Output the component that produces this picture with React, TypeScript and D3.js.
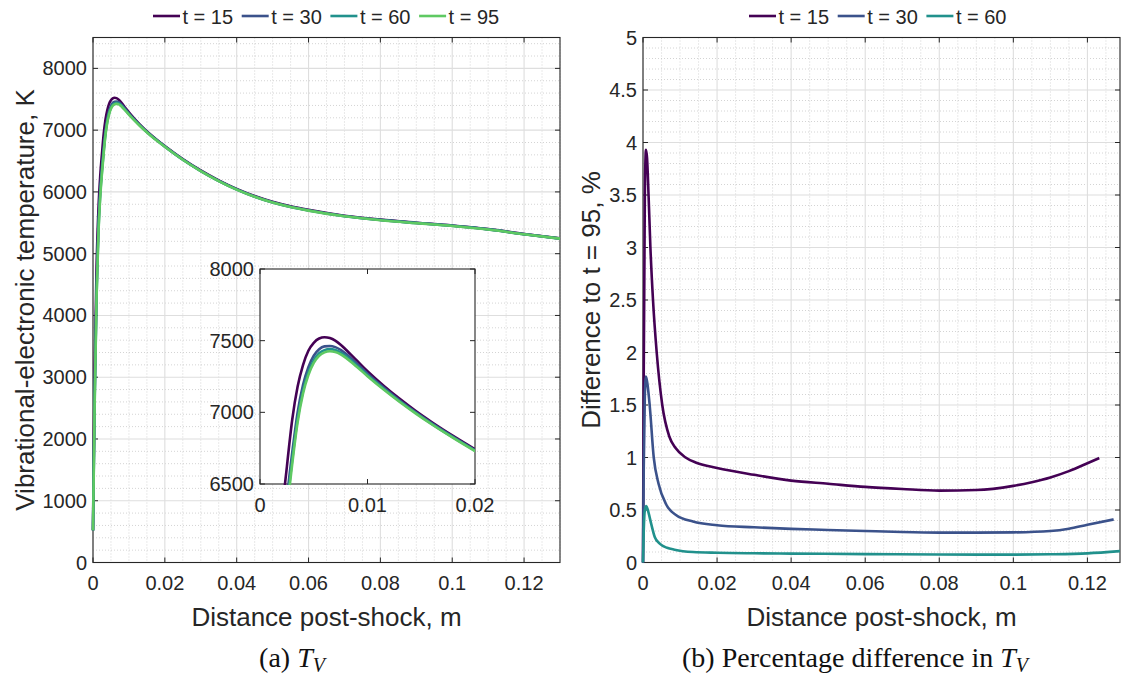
import React from 'react';
import * as d3 from 'd3';

// ---------------- (a) Vibrational-electronic temperature ----------------
const distA = [0, 0.0002, 0.0005, 0.001, 0.0015, 0.002, 0.0025, 0.003, 0.0035, 0.004, 0.0045, 0.005, 0.0055, 0.006, 0.0065, 0.007, 0.0075, 0.008, 0.009, 0.01, 0.0115, 0.013, 0.0145, 0.016, 0.018, 0.02, 0.025, 0.03, 0.035, 0.04, 0.045, 0.05, 0.055, 0.06, 0.07, 0.08, 0.09, 0.1, 0.11, 0.12, 0.13];
const tv15 = [520, 1700, 3200, 4800, 5700, 6250, 6620, 6950, 7180, 7330, 7430, 7485, 7515, 7524, 7518, 7500, 7472, 7437, 7362, 7287, 7186, 7094, 7009, 6931, 6834, 6743, 6532, 6348, 6187, 6049, 5933, 5840, 5767, 5709, 5615, 5551, 5502, 5457, 5398, 5319, 5248];
const tv30 = [520, 1500, 2850, 4450, 5450, 6020, 6400, 6720, 7000, 7190, 7315, 7395, 7440, 7460, 7463, 7455, 7436, 7408, 7340, 7270, 7173, 7083, 7000, 6923, 6827, 6736, 6525, 6341, 6180, 6042, 5926, 5833, 5760, 5702, 5610, 5547, 5498, 5453, 5395, 5317, 5246];
const tv60 = [520, 1450, 2750, 4350, 5350, 5950, 6340, 6670, 6955, 7150, 7280, 7362, 7412, 7434, 7441, 7435, 7417, 7392, 7327, 7259, 7165, 7077, 6995, 6918, 6823, 6733, 6522, 6338, 6177, 6039, 5923, 5830, 5757, 5699, 5607, 5544, 5496, 5451, 5393, 5315, 5244];
const tv95 = [520, 1400, 2700, 4300, 5300, 5900, 6300, 6640, 6930, 7130, 7260, 7345, 7395, 7418, 7426, 7421, 7405, 7380, 7318, 7252, 7159, 7072, 6991, 6915, 6820, 6730, 6520, 6336, 6175, 6037, 5921, 5828, 5755, 5697, 5605, 5542, 5494, 5449, 5392, 5314, 5243];

// ---------------- (b) Percentage difference to t = 95 ----------------
const dist15 = [0, 0.0002, 0.0005, 0.0008, 0.0011, 0.0015, 0.002, 0.0027, 0.0037, 0.0052, 0.0071, 0.0088, 0.0115, 0.0144, 0.02, 0.03, 0.04, 0.05, 0.06, 0.07, 0.08, 0.09, 0.1, 0.105, 0.11, 0.115, 0.12, 0.1232];
const diff15 = [0, 1.8, 3.5, 3.93, 3.85, 3.5, 3.0, 2.5, 2.0, 1.5, 1.2, 1.09, 1.0, 0.95, 0.9, 0.835, 0.78, 0.75, 0.72, 0.7, 0.685, 0.69, 0.73, 0.765, 0.81, 0.87, 0.945, 0.995];
const dist30 = [0, 0.0002, 0.0005, 0.0008, 0.0012, 0.0018, 0.0029, 0.0042, 0.0063, 0.009, 0.0135, 0.02, 0.03, 0.04, 0.05, 0.06, 0.07, 0.08, 0.09, 0.1, 0.11, 0.115, 0.12, 0.1271];
const diff30 = [0, 0.9, 1.6, 1.77, 1.7, 1.5, 1.0, 0.75, 0.55, 0.45, 0.39, 0.355, 0.335, 0.32, 0.31, 0.3, 0.29, 0.285, 0.285, 0.287, 0.3, 0.322, 0.36, 0.41];
const dist60 = [0, 0.0002, 0.0005, 0.0009, 0.0013, 0.0022, 0.0032, 0.0045, 0.0065, 0.0085, 0.0135, 0.02, 0.03, 0.04, 0.06, 0.08, 0.1, 0.11, 0.12, 0.1288];
const diff60 = [0, 0.3, 0.5, 0.537, 0.5, 0.37, 0.24, 0.18, 0.14, 0.122, 0.1, 0.093, 0.088, 0.085, 0.08, 0.076, 0.075, 0.078, 0.087, 0.108];

// ---------------- labels / ticks ----------------
const seriesNamesA = ['t = 15', 't = 30', 't = 60', 't = 95'];
const seriesNamesB = ['t = 15', 't = 30', 't = 60'];
const distTicks = [0, 0.02, 0.04, 0.06, 0.08, 0.1, 0.12];
const tempTicks = [0, 1000, 2000, 3000, 4000, 5000, 6000, 7000, 8000];
const insetXTicks = [0, 0.01, 0.02];
const insetYTicks = [6500, 7000, 7500, 8000];
const pctTicks = [0, 0.5, 1, 1.5, 2, 2.5, 3, 3.5, 4, 4.5, 5];

// ---------------- styles ----------------
const COLORS = ['#440154', '#3b528b', '#21918c', '#5ec962'];
const SANS = "'Liberation Sans', Arial, Helvetica, sans-serif";
const SERIF = "'Liberation Serif', 'Times New Roman', serif";
const AX = '#262626';
const TICK_FS = 20;
const LABEL_FS = 26;

type Series = { xs: number[]; ys: number[]; color: string };
type Box = { l: number; r: number; t: number; b: number };

function Panel(props: {
  box: Box; xDomain: [number, number]; yDomain: [number, number];
  xTicks: number[]; yTicks: number[]; xMinor?: number[]; yMinor?: number[];
  series: Series[]; grid: boolean; clipId: string; fill?: boolean;
}) {
  const { box, xDomain, yDomain, xTicks, yTicks, xMinor, yMinor, series, grid, clipId, fill } = props;
  const x = d3.scaleLinear().domain(xDomain).range([box.l, box.r]);
  const y = d3.scaleLinear().domain(yDomain).range([box.b, box.t]);
  const line = d3.line<[number, number]>().x(d => x(d[0])).y(d => y(d[1])).curve(d3.curveMonotoneX);
  const tl = 5;
  return (
    <g>
      <defs>
        <clipPath id={clipId}>
          <rect x={box.l - 2} y={box.t} width={box.r - box.l + 2} height={box.b - box.t + 1} />
        </clipPath>
      </defs>
      {fill && <rect x={box.l} y={box.t} width={box.r - box.l} height={box.b - box.t} fill="#fff" />}
      {grid && (
        <g>
          {(xMinor || []).map((v, i) => (
            <line key={'xm' + i} x1={x(v)} x2={x(v)} y1={box.t} y2={box.b} stroke="#c9c9c9" strokeWidth={0.8} strokeDasharray="1 2" />
          ))}
          {(yMinor || []).map((v, i) => (
            <line key={'ym' + i} x1={box.l} x2={box.r} y1={y(v)} y2={y(v)} stroke="#c9c9c9" strokeWidth={0.8} strokeDasharray="1 2" />
          ))}
          {xTicks.map((v, i) => (
            <line key={'xg' + i} x1={x(v)} x2={x(v)} y1={box.t} y2={box.b} stroke="#dedede" strokeWidth={1.1} />
          ))}
          {yTicks.map((v, i) => (
            <line key={'yg' + i} x1={box.l} x2={box.r} y1={y(v)} y2={y(v)} stroke="#dedede" strokeWidth={1.1} />
          ))}
        </g>
      )}
      <rect x={box.l} y={box.t} width={box.r - box.l} height={box.b - box.t} fill="none" stroke={AX} strokeWidth={1.1} />
      {xTicks.map((v, i) => (
        <g key={'xt' + i}>
          <line x1={x(v)} x2={x(v)} y1={box.b} y2={box.b - tl} stroke={AX} strokeWidth={1} />
          <line x1={x(v)} x2={x(v)} y1={box.t} y2={box.t + tl} stroke={AX} strokeWidth={1} />
          <text x={x(v)} y={box.b + 27.5} textAnchor="middle" fontFamily={SANS} fontSize={TICK_FS} fill={AX}>{String(v)}</text>
        </g>
      ))}
      {yTicks.map((v, i) => (
        <g key={'yt' + i}>
          <line x1={box.l} x2={box.l + tl} y1={y(v)} y2={y(v)} stroke={AX} strokeWidth={1} />
          <line x1={box.r} x2={box.r - tl} y1={y(v)} y2={y(v)} stroke={AX} strokeWidth={1} />
          <text x={box.l - 6} y={y(v) + 7} textAnchor="end" fontFamily={SANS} fontSize={TICK_FS} fill={AX}>{String(v)}</text>
        </g>
      ))}
      <g clipPath={`url(#${clipId})`}>
        {series.map((s, i) => (
          <path key={'s' + i} d={line(s.xs.map((v, k) => [v, s.ys[k]] as [number, number])) || ''} fill="none" stroke={s.color} strokeWidth={2.6} strokeLinejoin="round" />
        ))}
      </g>
    </g>
  );
}

function Legend({ names, x0, yMid }: { names: string[]; x0: number; yMid: number }) {
  const step = 88.7;
  return (
    <g>
      {names.map((n, i) => (
        <g key={n}>
          <line x1={x0 + i * step} x2={x0 + i * step + 27} y1={yMid} y2={yMid} stroke={COLORS[i]} strokeWidth={2.6} />
          <text x={x0 + i * step + 29.5} y={yMid + 7.5} fontFamily={SANS} fontSize={TICK_FS} fill={AX}>{n}</text>
        </g>
      ))}
    </g>
  );
}

export default function App() {
  const boxA: Box = { l: 93, r: 560, t: 37.5, b: 562.5 };
  const boxB: Box = { l: 643, r: 1120, t: 37.5, b: 562.5 };
  const boxI: Box = { l: 260, r: 475, t: 269, b: 484 };

  const seriesA: Series[] = [tv15, tv30, tv60, tv95].map((ys, i) => ({ xs: distA, ys, color: COLORS[i] }));
  const seriesB: Series[] = [
    { xs: dist15, ys: diff15, color: COLORS[0] },
    { xs: dist30, ys: diff30, color: COLORS[1] },
    { xs: dist60, ys: diff60, color: COLORS[2] },
  ];

  const xMinorA = d3.range(0, 0.13 + 1e-9, 0.005).filter(v => Math.abs(v / 0.02 - Math.round(v / 0.02)) > 1e-6);
  const yMinorA = d3.range(0, 8500 + 1e-6, 200).filter(v => v % 1000 !== 0);
  const xMinorB = d3.range(0, 0.1288, 0.005).filter(v => Math.abs(v / 0.02 - Math.round(v / 0.02)) > 1e-6);
  const yMinorB = d3.range(0, 5 + 1e-9, 0.1).filter(v => Math.abs(v / 0.5 - Math.round(v / 0.5)) > 1e-6);

  return (
    <div style={{ position: 'absolute', left: 0, top: 0, width: 1124, height: 679, background: '#fff' }}>
      <svg width={1124} height={679} viewBox="0 0 1124 679">
        <rect x={0} y={0} width={1124} height={679} fill="#fff" />
        {/* (a) */}
        <Panel box={boxA} xDomain={[0, 0.13]} yDomain={[0, 8500]} xTicks={distTicks} yTicks={tempTicks}
          xMinor={xMinorA} yMinor={yMinorA} series={seriesA} grid clipId="clipA" />
        <Panel box={boxI} xDomain={[0, 0.02]} yDomain={[6500, 8000]} xTicks={insetXTicks} yTicks={insetYTicks}
          series={seriesA} grid={false} clipId="clipI" fill />
        <Legend names={seriesNamesA} x0={153} yMid={16} />
        <text x={(boxA.l + boxA.r) / 2} y={626} textAnchor="middle" fontFamily={SANS} fontSize={LABEL_FS} fill={AX}>Distance post-shock, m</text>
        <text transform={`translate(34,${(boxA.t + boxA.b) / 2}) rotate(-90)`} textAnchor="middle" fontFamily={SANS} fontSize={LABEL_FS} fill={AX}>Vibrational-electronic temperature, K</text>
        <text x={292} y={667} textAnchor="middle" fontFamily={SERIF} fontSize={28} fill="#111">
          (a) <tspan fontStyle="italic">T</tspan><tspan fontStyle="italic" fontSize={20} dy={5}>V</tspan>
        </text>

        {/* (b) */}
        <Panel box={boxB} xDomain={[0, 0.1288]} yDomain={[0, 5]} xTicks={distTicks} yTicks={pctTicks}
          xMinor={xMinorB} yMinor={yMinorB} series={seriesB} grid clipId="clipB" />
        <Legend names={seriesNamesB} x0={749} yMid={16} />
        <text x={(boxB.l + boxB.r) / 2} y={626} textAnchor="middle" fontFamily={SANS} fontSize={LABEL_FS} fill={AX}>Distance post-shock, m</text>
        <text transform={`translate(600,${(boxB.t + boxB.b) / 2}) rotate(-90)`} textAnchor="middle" fontFamily={SANS} fontSize={LABEL_FS} fill={AX}>Difference to t = 95, %</text>
        <text x={855} y={667} textAnchor="middle" fontFamily={SERIF} fontSize={28} fill="#111">
          (b) Percentage difference in <tspan fontStyle="italic">T</tspan><tspan fontStyle="italic" fontSize={20} dy={5}>V</tspan>
        </text>
      </svg>
    </div>
  );
}
